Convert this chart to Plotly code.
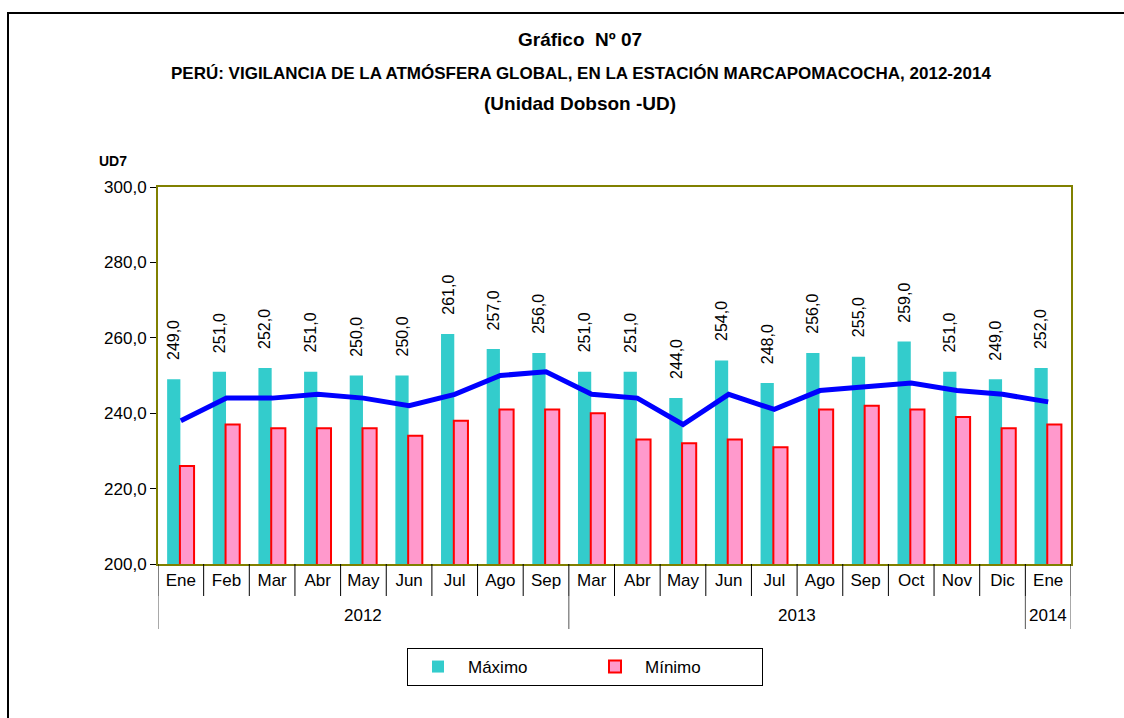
import plotly.graph_objects as go

months = ["Ene", "Feb", "Mar", "Abr", "May", "Jun", "Jul", "Ago", "Sep",
          "Mar", "Abr", "May", "Jun", "Jul", "Ago", "Sep", "Oct", "Nov", "Dic", "Ene"]
years = ["2012"] * 9 + ["2013"] * 10 + ["2014"]
maximo = [249, 251, 252, 251, 250, 250, 261, 257, 256,
          251, 251, 244, 254, 248, 256, 255, 259, 251, 249, 252]
minimo = [226, 237, 236, 236, 236, 234, 238, 241, 241,
          240, 233, 232, 233, 231, 241, 242, 241, 239, 236, 237]
promedio = [238, 244, 244, 245, 244, 242, 245, 250, 251,
            245, 244, 237, 245, 241, 246, 247, 248, 246, 245, 243]

FONT = "Liberation Sans, Arial, sans-serif"
xi = list(range(len(months)))

# pixel geometry of the plot area
PL, PR, PT, PB = 158, 1071, 187, 564
def px(xp):
    return (xp - PL) / (PR - PL)
def py(yp):
    return (PB - yp) / (PB - PT)

MAX_OFF, MAX_W = -0.30, 0.29
MIN_OFF, MIN_W = -0.02, 0.31

fig = go.Figure()
fig.add_trace(go.Bar(
    x=xi, y=maximo, name="Máximo",
    marker=dict(color="#33CCCC", line=dict(width=0)),
    width=MAX_W, offset=MAX_OFF,
))
fig.add_trace(go.Bar(
    x=xi, y=minimo, name="Mínimo",
    marker=dict(color="#FF99CC", line=dict(color="#FF0000", width=2)),
    width=MIN_W, offset=MIN_OFF,
))
fig.add_trace(go.Scatter(
    x=xi, y=promedio, mode="lines", showlegend=False,
    line=dict(color="#0000FF", width=5),
))

shapes = []
# month separators
for i in range(len(months) + 1):
    shapes.append(dict(type="line", xref="x", yref="paper",
                       x0=i - 0.5, x1=i - 0.5, y0=0, y1=py(596),
                       line=dict(color="#000000", width=1)))
# year group dividers
bounds = [0]
for i in range(1, len(years)):
    if years[i] != years[i - 1]:
        bounds.append(i)
bounds.append(len(years))
for b in bounds:
    shapes.append(dict(type="line", xref="x", yref="paper",
                       x0=b - 0.5, x1=b - 0.5, y0=py(596), y1=py(629),
                       line=dict(color="#555555", width=1)))
# outer frame
shapes.append(dict(type="rect", xref="paper", yref="paper",
                   x0=px(8), x1=px(1130), y0=py(725), y1=py(13),
                   line=dict(color="#000000", width=2), layer="below"))

annotations = [
    dict(text="<b>Gráfico  Nº 07</b>", x=px(580), y=py(40), xref="paper", yref="paper",
         xanchor="center", yanchor="middle", showarrow=False, font=dict(size=19)),
    dict(text="<b>PERÚ: VIGILANCIA DE LA ATMÓSFERA GLOBAL, EN LA ESTACIÓN MARCAPOMACOCHA, 2012-2014</b>",
         x=px(581), y=py(73), xref="paper", yref="paper",
         xanchor="center", yanchor="middle", showarrow=False, font=dict(size=17)),
    dict(text="<b>(Unidad Dobson -UD)</b>", x=px(580), y=py(104), xref="paper", yref="paper",
         xanchor="center", yanchor="middle", showarrow=False, font=dict(size=19)),
    dict(text="<b>UD7</b>", x=px(129), y=py(161), xref="paper", yref="paper",
         xanchor="right", yanchor="middle", showarrow=False, font=dict(size=14)),
]
# value labels above the Máximo bars
for i, v in zip(xi, maximo):
    annotations.append(dict(text=f"{v:.1f}".replace(".", ","), x=i + MAX_OFF + MAX_W / 2, y=v,
                            xref="x", yref="y", xanchor="center", yanchor="bottom",
                            yshift=17, textangle=-90, showarrow=False,
                            font=dict(size=16)))
for k in range(len(bounds) - 1):
    a, b = bounds[k], bounds[k + 1]
    annotations.append(dict(text=years[a], x=(a + b - 1) / 2, y=py(615), xref="x", yref="paper",
                            xanchor="center", yanchor="middle", showarrow=False,
                            font=dict(size=17)))

fig.update_layout(
    width=1124, height=718,
    barmode="overlay",
    separators=",.",
    paper_bgcolor="white", plot_bgcolor="white",
    margin=dict(l=PL, r=1124 - PR, t=PT, b=718 - PB),
    font=dict(family=FONT, size=17, color="#000000"),
    showlegend=True,
    legend=dict(
        orientation="h", x=px(585), xanchor="center", y=py(648), yanchor="top",
        bordercolor="#000000", borderwidth=1,
        font=dict(size=17, family=FONT),
        entrywidth=112, itemwidth=50,
        traceorder="normal",
    ),
    xaxis=dict(
        range=[-0.5, len(months) - 0.5],
        tickmode="array", tickvals=xi, ticktext=months, ticks="",
        showline=True, linecolor="#808000", linewidth=2, mirror=True,
        tickfont=dict(size=17, family=FONT), tickangle=0,
        showgrid=False, zeroline=False,
    ),
    yaxis=dict(
        range=[200, 300], dtick=20, tickformat=".1f",
        showline=True, linecolor="#808000", linewidth=2, mirror=True,
        ticks="outside", ticklen=6, tickcolor="#000000",
        tickfont=dict(size=17, family=FONT),
        showgrid=False, zeroline=False,
    ),
    shapes=shapes,
    annotations=annotations,
)

fig.write_html("out.html", config={"displayModeBar": False},
               post_script="document.body.style.margin='0px';")
